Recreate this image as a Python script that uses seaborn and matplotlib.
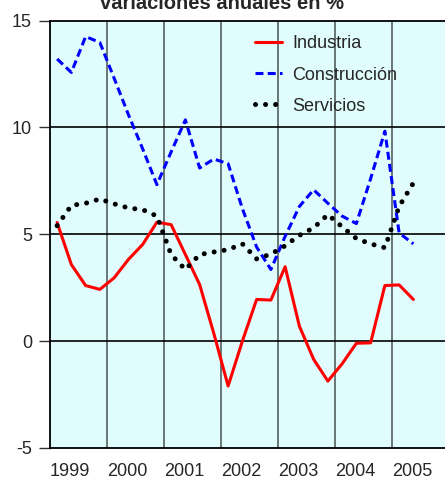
import numpy as np
import pandas as pd
import matplotlib
matplotlib.use("Agg")
import matplotlib.pyplot as plt
import seaborn as sns

# quarterly data, 1999Q1 .. 2005Q2
years = ["1999", "2000", "2001", "2002", "2003", "2004", "2005"]
industria = [5.55, 3.58, 2.6, 2.42, 2.96, 3.82, 4.52, 5.56, 5.45, 4.05, 2.65, 0.35,
             -2.1, 0.0, 1.95, 1.92, 3.48, 0.7, -0.85, -1.87, -1.06, -0.1, -0.08, 2.6,
             2.63, 1.95]
construccion = [13.2, 12.57, 14.25, 13.97, 12.3, 10.6, 9.0, 7.32, 8.85, 10.35, 8.1, 8.52,
                8.3, 6.2, 4.4, 3.35, 4.9, 6.3, 7.08, 6.45, 5.85, 5.5, 7.6, 9.82,
                5.06, 4.55]
servicios = [5.4, 6.35, 6.45, 6.65, 6.42, 6.23, 6.15, 5.85, 4.05, 3.35, 4.05, 4.17,
             4.28, 4.55, 3.85, 4.07, 4.46, 4.95, 5.3, 5.92, 5.35, 4.8, 4.55, 4.37,
             6.3, 7.4]
series_names = ["Industria", "Construcción", "Servicios"]

n = len(industria)
q = np.arange(n) + 0.5
df = pd.DataFrame({
    "q": np.concatenate([q, q, q]),
    "valor": industria + construccion + servicios,
    "serie": np.repeat(series_names, n),
})

sns.set_style("white")
plt.rcParams["font.family"] = ["Liberation Sans", "DejaVu Sans"]

fig = plt.figure(figsize=(4.45, 4.80), dpi=100)
ax = fig.add_axes([50 / 445, 32 / 480, 399 / 445, 427.5 / 480])
ax.set_facecolor("#E0FCFC")

palette = {"Industria": "#FF0000", "Construcción": "#0000FF", "Servicios": "#000000"}
sns.lineplot(data=df, x="q", y="valor", hue="serie", palette=palette, ax=ax,
             legend=False, sort=False)
lines = ax.get_lines()
lines[0].set_linewidth(2.2)
lines[1].set_linewidth(2.2)
lines[1].set_dashes((2.6, 1.4))
lines[2].set_linewidth(3.6)
lines[2].set_linestyle((0, (0.01, 2.0)))
lines[2].set_dash_capstyle("round")

ax.set_xlim(0, 28)
ax.set_ylim(-5, 15)
ax.set_yticks([-5, 0, 5, 10, 15])
ax.set_yticklabels(["-5", "0", "5", "10", "15"], fontsize=13)

for xv in [4, 8, 12, 16, 20, 24]:
    ax.axvline(xv, color="#5F6B6B", lw=1.3, zorder=0.5)
for yv in [0, 5, 10]:
    ax.axhline(yv, color="#000000", lw=1.2, zorder=0.5)

ax.set_xticks([4 * k + 1.4 for k in range(len(years))])
ax.set_xticklabels(years, fontsize=13)
ax.tick_params(axis="x", length=0, pad=11)
ax.tick_params(axis="y", length=8, width=1, color="#333333", pad=5, left=True)
ax.set_xlabel("")
ax.set_ylabel("")

for side in ["left", "top", "bottom"]:
    ax.spines[side].set_visible(True)
    ax.spines[side].set_color("#000000")
    ax.spines[side].set_linewidth(1.3)
ax.spines["right"].set_visible(False)

leg = ax.legend(lines, series_names, loc="upper left",
                bbox_to_anchor=(205 / 399, 0.965), borderpad=0, borderaxespad=0,
                frameon=False, fontsize=13, handlelength=1.5, handletextpad=0.55,
                labelspacing=0.78)

fig.text(222 / 445, 1 - 9 / 480, "variaciones anuales en %", ha="center", va="baseline",
         fontsize=14.5, fontweight="bold")

fig.savefig("out.png", dpi=100, facecolor="white")
